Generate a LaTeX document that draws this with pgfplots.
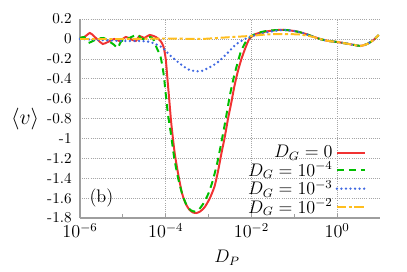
\documentclass[border=0pt]{standalone}
\usepackage{pgfplots}
\pgfplotsset{compat=1.18}
\definecolor{cred}{RGB}{240,50,50}
\definecolor{cgreen}{RGB}{0,190,0}
\definecolor{cblue}{RGB}{65,105,225}
\definecolor{corange}{RGB}{255,190,30}
\begin{document}
\begin{tikzpicture}
\useasboundingbox (-52.8pt,-34.98pt) rectangle (215.8pt,143.9pt);
\begin{axis}[
  at={(0,0)}, anchor=south west,
  scale only axis, width=198pt, height=131.3pt,
  xmin=-6, xmax=1, ymin=-1.8, ymax=0.2,
  axis x line=bottom, axis y line=left,
  axis line style={draw=black!38, line width=1pt, -},
  xtick={-6,-4,-2,0},
  xticklabels={$10^{-6}$,$10^{-4}$,$10^{-2}$,$10^{0}$},
  minor xtick={-5,-3,-1},
  ytick={-1.8,-1.6,-1.4,-1.2,-1,-0.8,-0.6,-0.4,-0.2,0,0.2},
  yticklabels={-1.8,-1.6,-1.4,-1.2,-1,-0.8,-0.6,-0.4,-0.2,0,0.2},
  tick align=inside,
  major tick length=2.6pt, minor tick length=2.6pt,
  tick style={draw=black!38, line width=0.6pt},
  ytick style={draw=none},
  grid=major,
  major grid style={draw=black!35, densely dotted, line width=0.5pt},
  xticklabel style={font=\large},
  yticklabel style={xshift=-2pt},
  xlabel={$D_P$}, ylabel={$\langle v\rangle$},
  xlabel style={font=\large, at={(axis description cs:0.49,-0.20)}, anchor=center},
  ylabel style={font=\Large, rotate=-90, at={(axis description cs:-0.183,0.5)}, anchor=center},
  legend plot pos=right,
  legend cell align=right,
  legend style={draw=none, fill=none, font=\large, at={(axis description cs:0.96,0.39)}, anchor=north east, row sep=-2.8pt, inner sep=1pt},
  legend image code/.code={\draw[#1] (0pt,0pt) -- (18.5pt,0pt);},
  clip=false,
]
\addplot[cred, line width=1.3pt, smooth, tension=0.4] coordinates {
(-6.0,0.01) (-5.9,0.02) (-5.77,0.06) (-5.68,0.03) (-5.58,-0.01) (-5.47,-0.05)
(-5.35,-0.03) (-5.2,0.0) (-5.08,-0.02) (-4.93,0.02) (-4.82,0.0) (-4.7,-0.02)
(-4.61,0.03) (-4.5,0.01) (-4.38,0.04) (-4.23,0.02) (-4.12,-0.02) (-4.05,-0.08)
(-4.0,-0.2) (-3.96,-0.4) (-3.91,-0.65) (-3.87,-0.85) (-3.79,-1.15) (-3.70,-1.38)
(-3.62,-1.55) (-3.53,-1.66) (-3.44,-1.72) (-3.36,-1.745) (-3.29,-1.75) (-3.2,-1.735)
(-3.09,-1.69) (-2.97,-1.6) (-2.86,-1.48) (-2.78,-1.33) (-2.70,-1.15) (-2.62,-0.98)
(-2.55,-0.81) (-2.47,-0.64) (-2.40,-0.48) (-2.32,-0.33) (-2.24,-0.21) (-2.15,-0.1)
(-2.05,0.0) (-1.9,0.05) (-1.66,0.075) (-1.4,0.09) (-1.2,0.09) (-1.0,0.08)
(-0.8,0.06) (-0.6,0.03) (-0.4,0.0) (-0.2,-0.02) (0,-0.03) (0.2,-0.045)
(0.4,-0.06) (0.55,-0.07) (0.7,-0.05) (0.85,-0.01) (0.97,0.04)
};
\addlegendentry{$D_G=0$}
\addplot[cgreen, line width=1.3pt, dash pattern=on 4.6pt off 3.3pt, smooth, tension=0.4] coordinates {
(-6,0.01) (-5.9,0.02) (-5.85,-0.02) (-5.8,-0.04) (-5.7,-0.02) (-5.6,0.0)
(-5.45,0.01) (-5.3,-0.03) (-5.2,-0.06) (-5.12,-0.09) (-5.05,-0.03) (-4.95,0.0)
(-4.85,0.01) (-4.75,0.03) (-4.65,0.04) (-4.55,0.0) (-4.45,0.01) (-4.35,0.02)
(-4.28,-0.01) (-4.22,-0.08) (-4.12,-0.18) (-4.05,-0.35) (-4.0,-0.55) (-3.95,-0.75)
(-3.88,-0.95) (-3.8,-1.2) (-3.7,-1.42) (-3.6,-1.58) (-3.5,-1.68) (-3.42,-1.72)
(-3.33,-1.735) (-3.24,-1.72) (-3.13,-1.66) (-3.0,-1.55) (-2.9,-1.42) (-2.8,-1.25)
(-2.72,-1.08) (-2.64,-0.9) (-2.57,-0.73) (-2.5,-0.56) (-2.42,-0.4) (-2.33,-0.25)
(-2.24,-0.12) (-2.12,-0.02) (-2.0,0.03) (-1.85,0.06) (-1.66,0.08) (-1.4,0.09)
(-1.2,0.09) (-1.0,0.08) (-0.8,0.06) (-0.6,0.03) (-0.4,0.0) (-0.2,-0.02)
(0,-0.03) (0.2,-0.045) (0.4,-0.06) (0.55,-0.07) (0.7,-0.05) (0.85,-0.01) (0.97,0.04)
};
\addlegendentry{$D_G=10^{-4}$}
\addplot[cblue, line width=1.7pt, dash pattern=on 0pt off 3pt, line cap=round, smooth, tension=0.4] coordinates {
(-6,0.0) (-5.5,-0.01) (-5,-0.02) (-4.6,-0.02) (-4.37,-0.03) (-4.1,-0.08)
(-3.91,-0.16) (-3.75,-0.22) (-3.6,-0.27) (-3.45,-0.31) (-3.29,-0.325) (-3.15,-0.32)
(-3.0,-0.29) (-2.82,-0.245) (-2.65,-0.18) (-2.51,-0.12) (-2.4,-0.07) (-2.28,-0.03)
(-2.1,0.01) (-1.9,0.04) (-1.66,0.065) (-1.4,0.085) (-1.2,0.09) (-1.0,0.08)
(-0.8,0.06) (-0.6,0.03) (-0.4,0.0) (-0.2,-0.02) (0,-0.03) (0.2,-0.045)
(0.4,-0.06) (0.55,-0.07) (0.7,-0.05) (0.85,-0.01) (0.97,0.04)
};
\addlegendentry{$D_G=10^{-3}$}
\addplot[corange, line width=1.3pt, dash pattern=on 6pt off 1.8pt on 2pt off 1.8pt, smooth, tension=0.4] coordinates {
(-6,0.0) (-5,0.0) (-4,0.005) (-3.2,0.0) (-2.8,0.01) (-2.44,0.02)
(-2.05,0.03) (-1.66,0.045) (-1.28,0.05) (-0.88,0.045) (-0.6,0.025) (-0.4,0.0)
(-0.2,-0.02) (0,-0.03) (0.2,-0.045) (0.4,-0.06) (0.55,-0.07) (0.7,-0.05)
(0.85,-0.01) (0.97,0.04)
};
\addlegendentry{$D_G=10^{-2}$}
\node[font=\large] at (axis cs:-5.5,-1.6) {(b)};
\end{axis}
\end{tikzpicture}
\end{document}
